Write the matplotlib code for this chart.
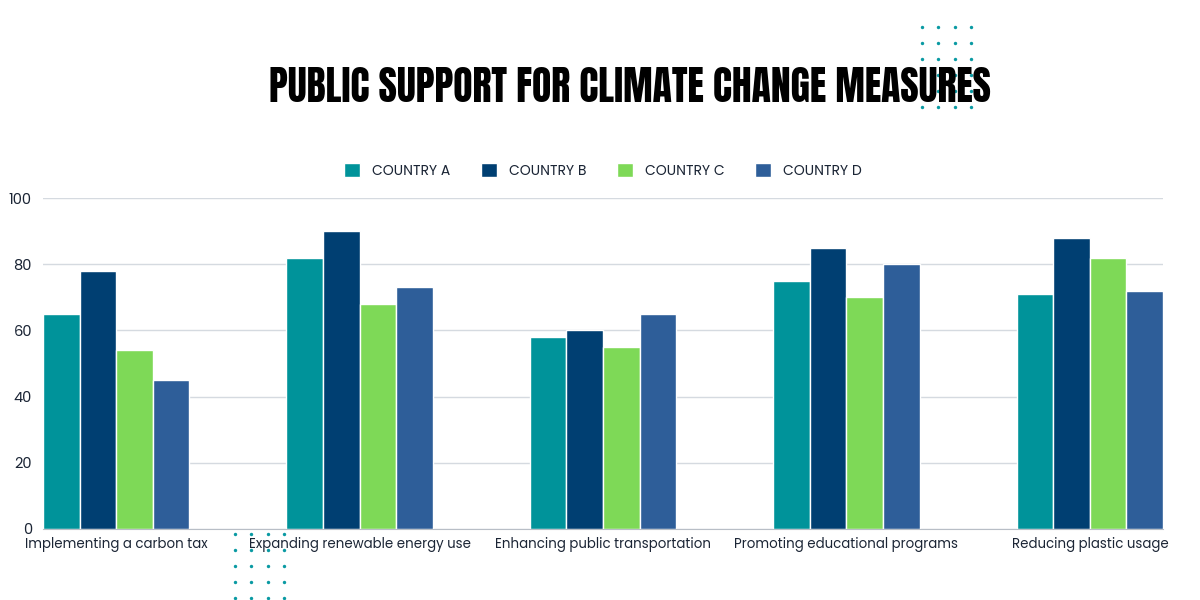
import matplotlib
matplotlib.use("Agg")
import matplotlib.pyplot as plt
import numpy as np

# ---- data ----
measures = [
    "Implementing a carbon tax",
    "Expanding renewable energy use",
    "Enhancing public transportation",
    "Promoting educational programs",
    "Reducing plastic usage",
]
countries = ["COUNTRY A", "COUNTRY B", "COUNTRY C", "COUNTRY D"]
country_a = [65, 82, 58, 75, 71]
country_b = [78, 90, 60, 85, 88]
country_c = [54, 68, 55, 70, 82]
country_d = [45, 73, 65, 80, 72]
y_ticks = [0, 20, 40, 60, 80, 100]

colors = ["#00939a", "#003f72", "#7ed957", "#2e5e99"]
text_color = "#1b2535"
dot_color = "#0a9aa3"

plt.rcParams["font.family"] = ["Poppins", "Lato", "DejaVu Sans"]

fig = plt.figure(figsize=(12, 6), dpi=100)

# decorative dot grids (figure pixel space)
bg = fig.add_axes([0, 0, 1, 1], zorder=0)
bg.set_xlim(0, 1200)
bg.set_ylim(600, 0)
bg.axis("off")
for x0, y0, nrows in [(922, 27, 6), (235, 534, 5)]:
    gx, gy = np.meshgrid(x0 + np.arange(4) * 16.4, y0 + np.arange(nrows) * 15.9)
    bg.scatter(gx.ravel(), gy.ravel(), s=6, color=dot_color, linewidths=0)

ax = fig.add_axes([43 / 1200, 71 / 600, 1120 / 1200, 331 / 600], zorder=1)
ax.patch.set_alpha(0)

x = np.arange(len(measures))
bw = 0.15
series = [country_a, country_b, country_c, country_d]
for i, (name, vals) in enumerate(zip(countries, series)):
    ax.bar(x + (i - 1.5) * bw, vals, width=bw, color=colors[i],
           edgecolor="white", linewidth=1, label=name, zorder=2)

ax.set_xlim(-0.3, len(measures) - 1 + 0.3)
ax.set_ylim(0, 100)
ax.set_yticks(y_ticks)
ax.set_xticks(x)
ax.set_xticklabels(measures)
ax.grid(axis="y", color="#d5dae0", linewidth=1, zorder=0)
ax.set_axisbelow(True)
for s in ["top", "right", "left"]:
    ax.spines[s].set_visible(False)
ax.spines["bottom"].set_color("#b8bec6")
ax.tick_params(axis="both", length=0, colors=text_color)
ax.tick_params(axis="x", pad=6, labelsize=9.6)
ax.tick_params(axis="y", pad=8, labelsize=10.5)

leg = ax.legend(loc="lower center", bbox_to_anchor=(0.5, 1.02), ncol=4,
                frameon=False, handlelength=1.15, handleheight=1.15,
                columnspacing=2.2, handletextpad=0.86, fontsize=10)
for t in leg.get_texts():
    t.set_color(text_color)

fig.text(630 / 1200, 1 - 87 / 600, "PUBLIC SUPPORT FOR CLIMATE CHANGE MEASURES",
         ha="center", va="center", fontsize=28.5, color="black", zorder=3,
         family=["Anton", "DejaVu Sans"])

fig.savefig("out.png", dpi=100, facecolor="white")
